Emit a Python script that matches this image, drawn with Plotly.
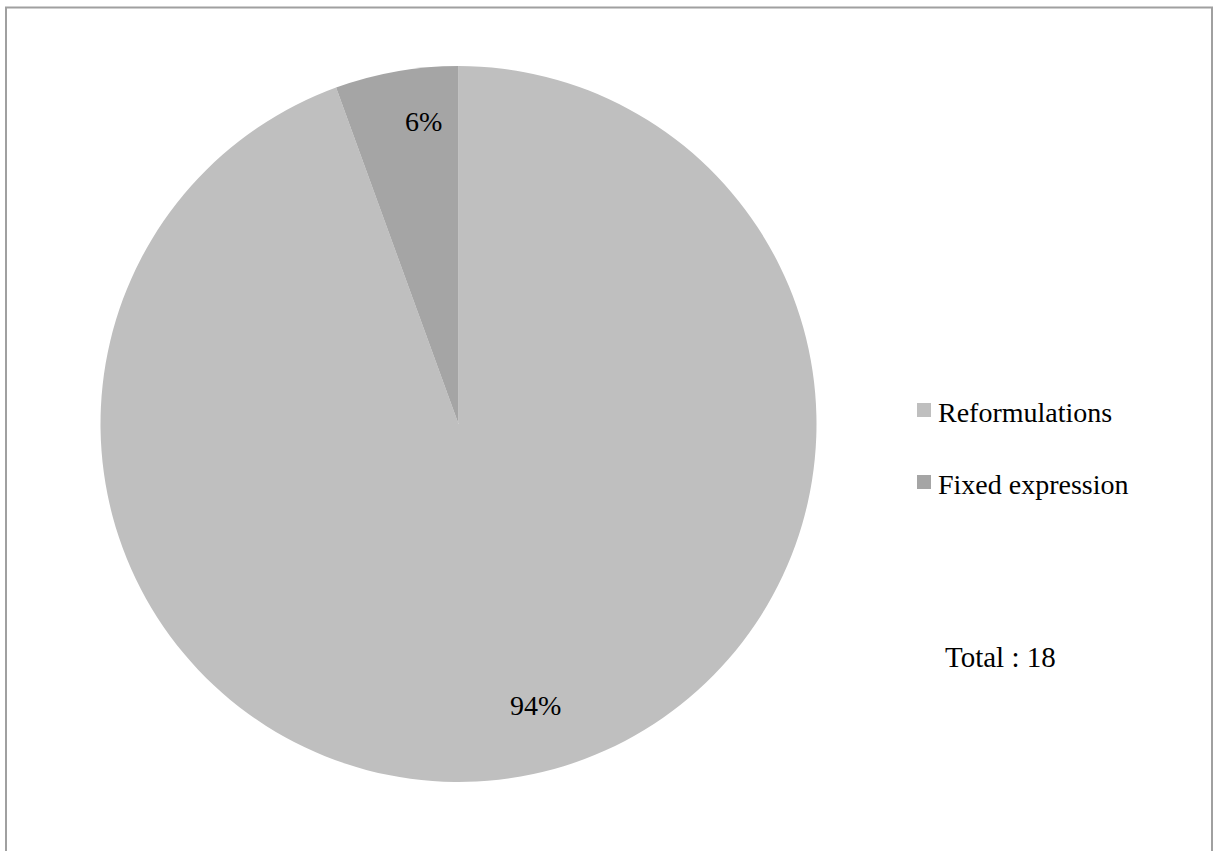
import plotly.graph_objects as go

# Share of items by category
categories = ["Reformulations", "Fixed expression"]
counts = [17, 1]
colors = ["#bfbfbf", "#a5a5a5"]

W, H = 1218, 851
FONT = "Liberation Serif"

total = sum(counts)
pcts = [round(100 * c / total) for c in counts]

fig = go.Figure(
    go.Pie(
        labels=categories,
        values=counts,
        sort=False,
        direction="clockwise",
        rotation=0,
        marker=dict(colors=colors, line=dict(width=0)),
        textinfo="none",
        hoverinfo="label+value+percent",
        showlegend=False,
        domain=dict(x=[100 / W, 817 / W], y=[1 - 782 / H, 1 - 66 / H]),
    )
)

# Percentage labels for each slice
label_pos = [(535, 723), (403, 104)]
for p, (x, y) in zip(pcts, label_pos):
    fig.add_annotation(
        x=x / W, y=1 - y / H, xref="paper", yref="paper",
        text=f"{p}%", showarrow=False,
        font=dict(family=FONT, size=28, color="#000000"),
    )

# Legend: colour key squares with category names
legend_y = [410, 482]
for name, col, y in zip(categories, colors, legend_y):
    fig.add_shape(
        type="rect", xref="paper", yref="paper",
        x0=917 / W, x1=931 / W, y0=1 - (y + 7) / H, y1=1 - (y - 7) / H,
        fillcolor=col, line=dict(width=0),
    )
    fig.add_annotation(
        x=936 / W, y=1 - (y + 2) / H, xref="paper", yref="paper",
        xanchor="left", text=name, showarrow=False,
        font=dict(family=FONT, size=28, color="#000000"),
    )

fig.add_annotation(
    x=943 / W, y=1 - 675 / H, xref="paper", yref="paper",
    xanchor="left", text=f"Total&nbsp;: {total}", showarrow=False,
    font=dict(family=FONT, size=29, color="#000000"),
)

# Chart frame
fig.add_shape(
    type="rect", xref="paper", yref="paper",
    x0=6 / W, x1=1212 / W, y0=-0.05, y1=1 - 7.5 / H,
    line=dict(color="#a0a0a0", width=2),
)

fig.update_layout(
    width=W, height=H,
    margin=dict(l=0, r=0, t=0, b=0),
    paper_bgcolor="white",
    plot_bgcolor="white",
    font=dict(family=FONT, size=28, color="#000000"),
    showlegend=False,
)

fig.write_html("out.html")
